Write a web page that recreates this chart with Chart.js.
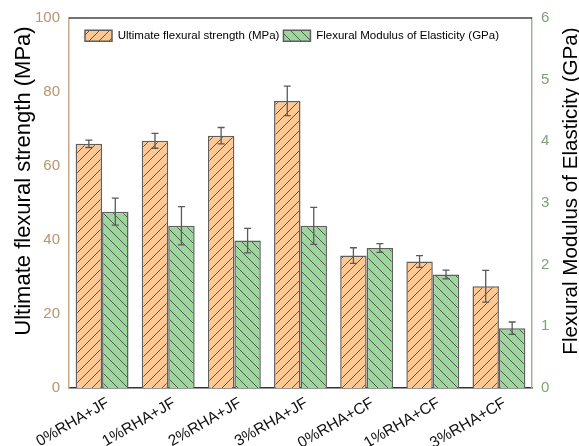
<!DOCTYPE html>
<html>
<head>
<meta charset="utf-8">
<script src="https://cdn.jsdelivr.net/npm/chart.js@4/dist/chart.umd.min.js"></script>
<style>
  html, body { margin: 0; padding: 0; background: #fff; }
  #wrap { width: 579px; height: 446px; position: relative; }
</style>
</head>
<body>
<div id="wrap"><canvas id="chart"></canvas></div>
<script>
// Flexural test results per mix
const categories = ['0%RHA+JF', '1%RHA+JF', '2%RHA+JF', '3%RHA+JF', '0%RHA+CF', '1%RHA+CF', '3%RHA+CF'];
const strength = [66.0, 66.8, 68.2, 77.6, 35.8, 34.2, 27.5];      // MPa
const strengthErr = [1.0, 2.0, 2.2, 4.0, 2.1, 1.6, 4.3];
const modulus = [2.86, 2.63, 2.39, 2.63, 2.27, 1.84, 0.97];       // GPa
const modulusErr = [0.22, 0.31, 0.20, 0.30, 0.07, 0.07, 0.10];
const strengthTicks = [0, 20, 40, 60, 80, 100];
const modulusTicks = [0, 1, 2, 3, 4, 5, 6];
const seriesNames = ['Ultimate flexural strength (MPa)', 'Flexural Modulus of Elasticity (GPa)'];
const axisTitles = ['Ultimate flexural strength (MPa)', 'Flexural Modulus of Elasticity (GPa)'];

Chart.defaults.font.family = '"Liberation Sans", Arial, sans-serif';

// Diagonal hatch fill: dir > 0 gives "/", dir < 0 gives "\"
function hatch(fill, dir) {
  const s = 10;
  const c = document.createElement('canvas');
  c.width = s; c.height = s;
  const g = c.getContext('2d');
  g.fillStyle = fill;
  g.fillRect(0, 0, s, s);
  g.strokeStyle = '#585858';
  g.lineWidth = 1;
  g.beginPath();
  if (dir > 0) {
    g.moveTo(-1, 1); g.lineTo(1, -1);
    g.moveTo(0, s); g.lineTo(s, 0);
    g.moveTo(s - 1, s + 1); g.lineTo(s + 1, s - 1);
  } else {
    g.moveTo(-1, s - 1); g.lineTo(1, s + 1);
    g.moveTo(0, 0); g.lineTo(s, s);
    g.moveTo(s - 1, -1); g.lineTo(s + 1, 1);
  }
  g.stroke();
  return g.createPattern(c, 'repeat');
}

// Error bars for both series, drawn through each bar's own scale
const errorBars = {
  id: 'errorBars',
  afterDatasetsDraw(chart) {
    const ctx = chart.ctx;
    const sets = [strengthErr, modulusErr];
    ctx.save();
    ctx.strokeStyle = '#5a5a5a';
    ctx.lineWidth = 1.3;
    chart.data.datasets.forEach((ds, di) => {
      const meta = chart.getDatasetMeta(di);
      const sc = chart.scales[meta.yAxisID];
      meta.data.forEach((bar, i) => {
        const v = ds.data[i], e = sets[di][i];
        const yt = sc.getPixelForValue(v + e);
        const yb = sc.getPixelForValue(v - e);
        const x = bar.x, hw = 3.5;
        ctx.beginPath();
        ctx.moveTo(x, yt); ctx.lineTo(x, yb);
        ctx.moveTo(x - hw, yt); ctx.lineTo(x + hw, yt);
        ctx.moveTo(x - hw, yb); ctx.lineTo(x + hw, yb);
        ctx.stroke();
      });
    });
    ctx.restore();
  }
};

// Top frame line and the two vertical axis titles
const frameAndTitles = {
  id: 'frameAndTitles',
  afterDraw(chart) {
    const ctx = chart.ctx, a = chart.chartArea;
    ctx.save();
    ctx.strokeStyle = '#444';
    ctx.lineWidth = 1.5;
    ctx.beginPath();
    ctx.moveTo(a.left, a.top);
    ctx.lineTo(a.right, a.top);
    ctx.stroke();

    ctx.fillStyle = '#000';
    ctx.textAlign = 'center';
    ctx.textBaseline = 'middle';
    ctx.font = '22px "Liberation Sans", Arial, sans-serif';
    ctx.translate(24, a.top + 163);
    ctx.rotate(-Math.PI / 2);
    ctx.fillText(axisTitles[0], 0, 0);
    ctx.restore();

    ctx.save();
    ctx.fillStyle = '#000';
    ctx.textAlign = 'center';
    ctx.textBaseline = 'middle';
    ctx.font = '20.6px "Liberation Sans", Arial, sans-serif';
    ctx.translate(chart.width - 8, a.top + 173);
    ctx.rotate(-Math.PI / 2);
    ctx.fillText(axisTitles[1], 0, 0);
    ctx.restore();
  }
};

// Legend floats inside the plot area instead of taking a layout row
const floatLegend = {
  id: 'floatLegend',
  afterInit(chart) {
    const lg = chart.legend;
    const fit = lg.fit;
    lg.fit = function () {
      fit.call(this);
      this._fullH = this.height;
      this.height = 0;
    };
  },
  afterLayout(chart) {
    const lg = chart.legend, a = chart.chartArea;
    lg.left = a.left + 12;
    lg.top = a.top + 8;
    lg.right = chart.width;
    lg.bottom = lg.top + lg._fullH;
    lg.width = lg.right - lg.left;
    lg.height = lg._fullH;
  }
};

new Chart(document.getElementById('chart'), {
  type: 'bar',
  data: {
    labels: categories,
    datasets: [
      {
        label: seriesNames[0],
        data: strength,
        yAxisID: 'y',
        backgroundColor: hatch('#fdc893', 1),
        borderColor: '#5f5f5f',
        borderWidth: 1.5,
        categoryPercentage: 0.8,
        barPercentage: 1.0
      },
      {
        label: seriesNames[1],
        data: modulus,
        yAxisID: 'y1',
        backgroundColor: hatch('#9bd69b', -1),
        borderColor: '#5f5f5f',
        borderWidth: 1.5,
        categoryPercentage: 0.8,
        barPercentage: 1.0
      }
    ]
  },
  options: {
    responsive: true,
    maintainAspectRatio: false,
    animation: false,
    events: [],
    layout: { padding: { top: 15, left: 0, right: 0, bottom: 0 } },
    plugins: {
      tooltip: { enabled: false },
      legend: {
        display: true,
        position: 'top',
        align: 'start',
        labels: {
          boxWidth: 27,
          boxHeight: 11,
          padding: 4,
          color: '#000',
          font: { size: 11.5 }
        }
      }
    },
    scales: {
      x: {
        grid: { display: false, drawTicks: false },
        border: { display: true, color: '#333', width: 1.5 },
        ticks: {
          color: '#111',
          font: { size: 15.5 },
          minRotation: 30,
          maxRotation: 30,
          autoSkip: false,
          padding: 6,
          labelOffset: 6
        },
        afterFit(scale) { scale.height = 58; }
      },
      y: {
        position: 'left',
        min: strengthTicks[0],
        max: strengthTicks[strengthTicks.length - 1],
        afterBuildTicks(scale) { scale.ticks = strengthTicks.map(v => ({ value: v })); },
        grid: { display: false, drawTicks: false },
        border: { display: true, color: '#c8aa8c', width: 1.5 },
        ticks: { color: '#b8946f', font: { size: 15 }, padding: 9 },
        afterFit(scale) { scale.width = 69; }
      },
      y1: {
        position: 'right',
        min: modulusTicks[0],
        max: modulusTicks[modulusTicks.length - 1],
        afterBuildTicks(scale) { scale.ticks = modulusTicks.map(v => ({ value: v })); },
        grid: { display: false, drawTicks: false },
        border: { display: true, color: '#9db596', width: 1.5 },
        ticks: { color: '#7da375', font: { size: 15 }, padding: 9 },
        afterFit(scale) { scale.width = 47; }
      }
    }
  },
  plugins: [errorBars, frameAndTitles, floatLegend]
});
</script>
</body>
</html>
